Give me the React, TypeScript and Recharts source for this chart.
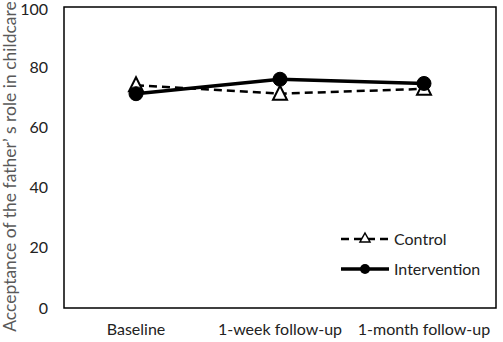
import { Line, LineChart, ReferenceArea, XAxis, YAxis } from 'recharts';

const timepoints = ['Baseline', '1-week follow-up', '1-month follow-up'];
const control = [74, 71.2, 72.8];
const intervention = [71.2, 76, 74.6];
const yTicks = [0, 20, 40, 60, 80, 100];

const data = timepoints.map((t, i) => ({ t, control: control[i], intervention: intervention[i] }));

const font = 'Lato, "Open Sans", sans-serif';

function Triangle(props: any) {
  const { cx, cy } = props;
  if (cx == null || cy == null) return null;
  const s = 7;
  return (
    <path
      d={`M${cx},${cy - s - 1} L${cx + s},${cy + s - 1} L${cx - s},${cy + s - 1} Z`}
      fill="#fff"
      stroke="#000"
      strokeWidth={2}
    />
  );
}

function LegendBox() {
  return (
    <svg width={160} height={50} style={{ position: 'absolute', left: 340, top: 228, overflow: 'visible' }}>
      <line x1={1} x2={49} y1={11} y2={11} stroke="#000" strokeWidth={2.5} strokeDasharray="8 5" />
      <path d="M25,5 L30,14 L20,14 Z" fill="#fff" stroke="#000" strokeWidth={1.5} />
      <text x={54} y={11} dy="0.35em" fontFamily={font} fontSize={16} fill="#222">Control</text>
      <line x1={1} x2={49} y1={41} y2={41} stroke="#000" strokeWidth={3.5} />
      <circle cx={25} cy={41} r={5} fill="#000" />
      <text x={54} y={41} dy="0.35em" fontFamily={font} fontSize={16} fill="#222">Intervention</text>
    </svg>
  );
}

export default function App() {
  return (
    <div style={{ position: 'absolute', left: 0, top: 0, width: 503, height: 342, background: '#fff' }}>
      <LineChart width={503} height={342} data={data} margin={{ top: 7, right: 7, bottom: 4, left: 0 }}>
        <XAxis
          dataKey="t"
          scale="band"
          height={30}
          axisLine={false}
          tickLine={false}
          tickSize={8}
          tickMargin={8}
          tick={{ fill: '#222', fontSize: 16, fontFamily: font }}
          interval={0}
        />
        <YAxis
          domain={[0, 100]}
          ticks={yTicks}
          width={64}
          axisLine={false}
          tickLine={false}
          tickSize={8}
          tickMargin={8}
          tick={{ fill: '#222', fontSize: 16, fontFamily: font }}
          label={{
            value: 'Acceptance of the father\u2019 s role in childcare',
            angle: -90,
            position: 'insideLeft',
            dx: 5,
            dy: 9,
            style: { fill: '#595959', fontSize: 17.5, fontFamily: font, textAnchor: 'middle' },
          }}
        />
        <ReferenceArea y1={0} y2={100} fill="none" stroke="#000" strokeWidth={1.5} />
        <Line
          dataKey="control"
          stroke="#000"
          strokeWidth={2.5}
          strokeDasharray="8 5"
          dot={<Triangle />}
          isAnimationActive={false}
        />
        <Line
          dataKey="intervention"
          stroke="#000"
          strokeWidth={3.5}
          dot={{ r: 7, fill: '#000', stroke: '#000', strokeWidth: 1 }}
          isAnimationActive={false}
        />
      </LineChart>
      <LegendBox />
    </div>
  );
}
